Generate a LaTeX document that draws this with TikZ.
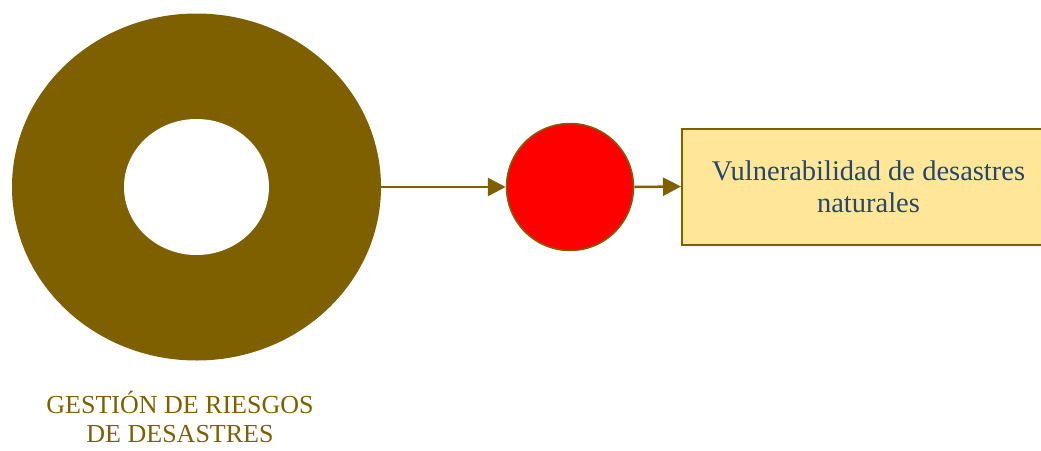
\documentclass[tikz,border=0pt]{standalone}
\usepackage{fontspec}
\setmainfont{Liberation Serif}
\usetikzlibrary{shapes.geometric, arrows.meta}
\definecolor{ringbrown}{HTML}{7F6000}
\definecolor{boxyellow}{HTML}{FFE699}
\definecolor{textblue}{HTML}{24476E}

\begin{document}
\begin{tikzpicture}[x=1pt, y=-1pt,
    link/.style={draw=ringbrown, line width=2.5pt, -{Triangle[length=18pt, width=18pt]}}]
    \useasboundingbox (0,0) rectangle (1041,450);

    % Ring
    \node[ellipse, fill=ringbrown, minimum width=369pt, minimum height=347pt, inner sep=0pt] (ring) at (196.5,187) {};
    \node[ellipse, fill=white, minimum width=145pt, minimum height=136pt, inner sep=0pt] (hole) at (196.5,187) {};
    \node[text=ringbrown, align=center, inner sep=0pt, font=\fontsize{26}{29}\selectfont] (title) at (180,417) {
        GESTIÓN DE RIESGOS\\DE DESASTRES
    };

    % Dot
    \node[circle, fill=red, draw=ringbrown, line width=1.5pt, minimum size=127pt, inner sep=0pt] (dot) at (570,187) {};

    % Box
    \node[rectangle, fill=boxyellow, draw=ringbrown, line width=2pt, minimum width=373pt, minimum height=116pt,
        text=textblue, align=center, font=\fontsize{28.5}{31.5}\selectfont] (box) at (868.5,186.5) {
        Vulnerabilidad de desastres\\naturales
    };

    % Links
    \draw[link] (ring.east) -- (dot.west);
    \draw[link] (dot.east) -- (box.west);
\end{tikzpicture}
\end{document}
